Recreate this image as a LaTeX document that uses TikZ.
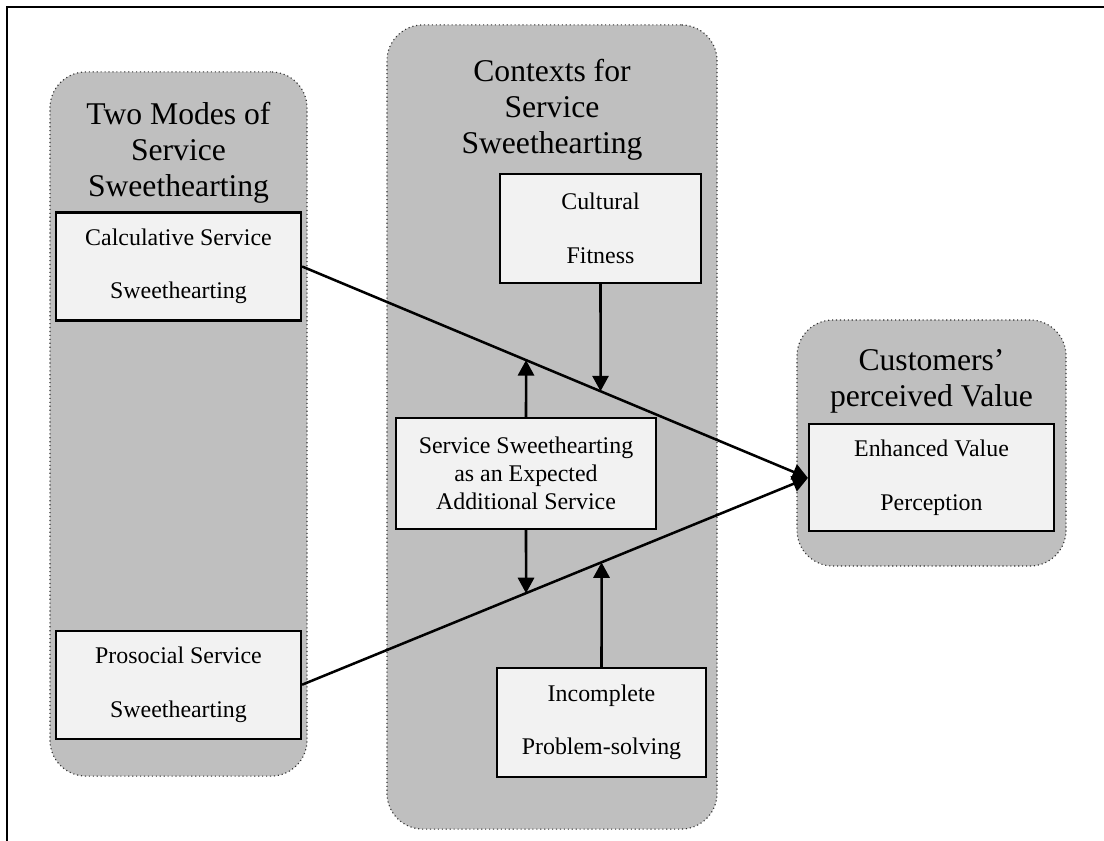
\documentclass[tikz,border=0pt]{standalone}
\usepackage{fontspec}
\setmainfont{Liberation Serif}
\usepackage{tikz}
\usetikzlibrary{arrows.meta, positioning}
\definecolor{panelgray}{HTML}{BFBFBF}
\definecolor{factorgray}{HTML}{F2F2F2}
\tikzstyle{panel} = [rectangle, rounded corners=0.9cm, draw=black!80, line width=0.8pt, dotted, fill=panelgray, inner sep=0pt]
\tikzstyle{heading} = [inner sep=0pt, align=center, font=\fontsize{22.5}{25.6}\selectfont]
\tikzstyle{factor} = [rectangle, draw=black, line width=1.5pt, fill=factorgray, inner sep=0pt, align=center, font=\fontsize{17}{20}\selectfont]
\tikzstyle{arrow} = [line width=1.8pt, -{Triangle[length=11pt,width=11.5pt]}]

\begin{document}
\begin{tikzpicture}[x=0.025cm, y=-0.025cm]
    \useasboundingbox (0,0) rectangle (1104,841);
    % Frame
    \draw[line width=1.6pt] (7,841) -- (7,7) -- (1104,7);

    % Panels
    \node[panel, minimum width=6.425cm, minimum height=17.6cm] (modes) at (178.5,424) {};
    \node[panel, minimum width=8.25cm, minimum height=20.1cm] (contexts) at (552,427) {};
    \node[panel, minimum width=6.725cm, minimum height=6.15cm] (value) at (931.5,443) {};

    % Headings
    \node[heading, below=0.76cm of modes.north] (modeshead) {Two Modes of\\Service\\Sweethearting};
    \node[heading, below=0.86cm of contexts.north] (contextshead) {Contexts for\\Service\\Sweethearting};
    \node[heading, below=0.74cm of value.north] (valuehead) {Customers’\\perceived Value};

    % Factors
    \node[factor, minimum width=6.125cm, minimum height=2.7cm, below=0.2cm of modeshead] (calc) {Calculative Service\\[18pt]Sweethearting};
    \node[factor, minimum width=6.125cm, minimum height=2.7cm, below=7.7cm of calc] (pros) {Prosocial Service\\[18pt]Sweethearting};
    \node[factor, minimum width=5.025cm, minimum height=2.725cm] (cult) at (600.5,228.5) {Cultural\\[18pt]Fitness};
    \node[factor, minimum width=6.5cm, minimum height=2.775cm] (expect) at (526,473.5) {Service Sweethearting\\as an Expected\\Additional Service};
    \node[factor, minimum width=5.225cm, minimum height=2.725cm] (incompl) at (601.5,722.5) {Incomplete\\[18pt]Problem-solving};
    \node[factor, minimum width=6.125cm, minimum height=2.675cm, below=0.25cm of valuehead] (enh) {Enhanced Value\\[18pt]Perception};

    % Main effects
    \draw[arrow] (calc.east) -- (enh.west);
    \draw[arrow] (pros.east) -- (enh.west);

    % Moderating contexts
    \draw[arrow] (cult.south) -- (intersection of calc.east--enh.west and cult.south--cult.north);
    \draw[arrow] (expect.north) -- (intersection of calc.east--enh.west and expect.south--expect.north);
    \draw[arrow] (expect.south) -- (intersection of pros.east--enh.west and expect.south--expect.north);
    \draw[arrow] (incompl.north) -- (intersection of pros.east--enh.west and incompl.south--incompl.north);

\end{tikzpicture}
\end{document}
